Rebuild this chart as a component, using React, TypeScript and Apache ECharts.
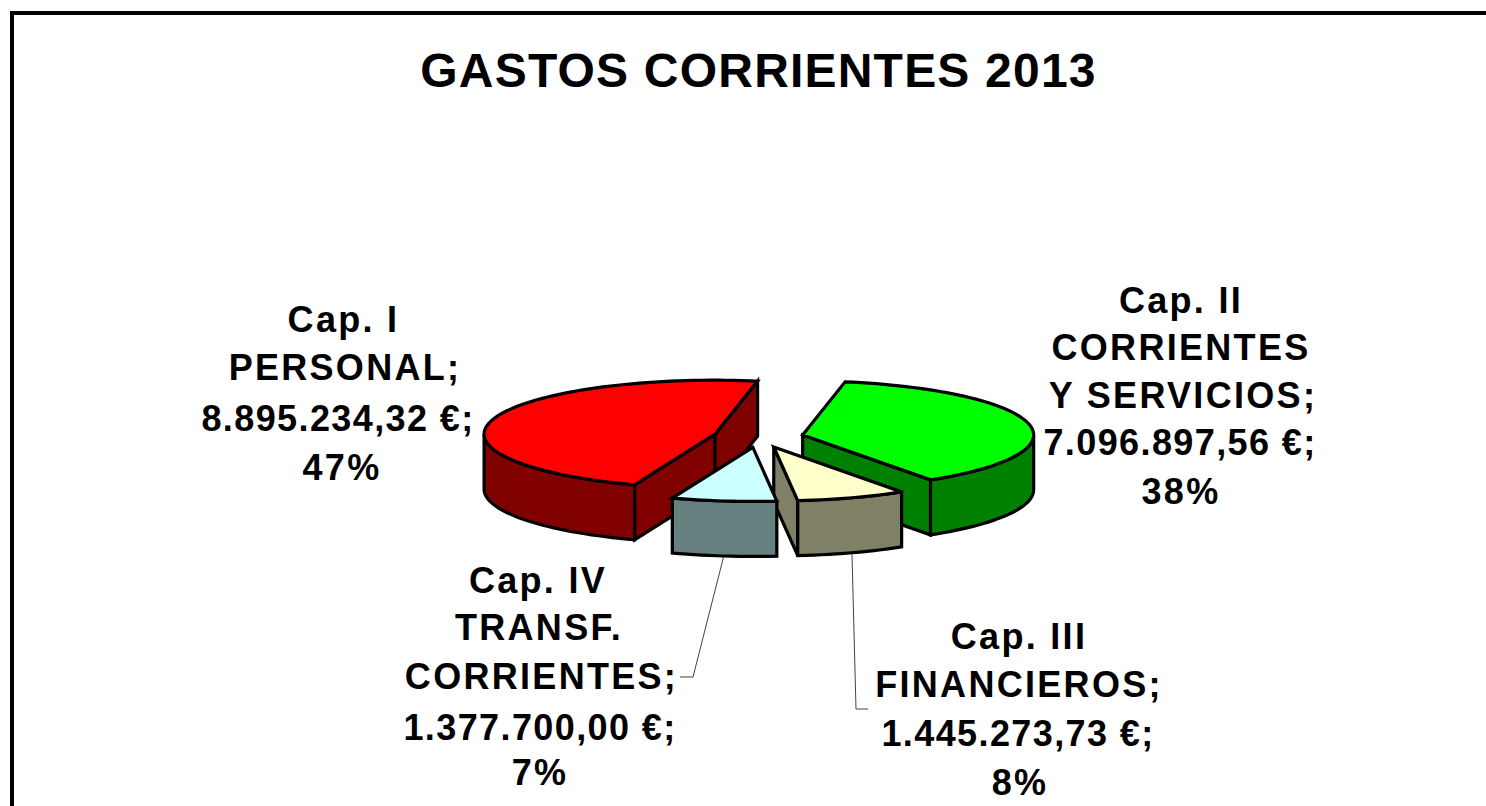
import React, { useEffect, useRef } from "react";
import * as echarts from "echarts";

const chartTitle = "GASTOS CORRIENTES 2013";
const capIValue = 8895234.32;
const capIIValue = 7096897.56;
const capIIIValue = 1445273.73;
const capIVValue = 1377700.0;
const values = [capIValue, capIIValue, capIIIValue, capIVValue];

const capILabel = ["Cap. I", "PERSONAL;", "8.895.234,32 €;", "47%"];
const capIILabel = ["Cap. II", "CORRIENTES", "Y SERVICIOS;", "7.096.897,56 €;", "38%"];
const capIIILabel = ["Cap. III", "FINANCIEROS;", "1.445.273,73 €;", "8%"];
const capIVLabel = ["Cap. IV", "TRANSF.", "CORRIENTES;", "1.377.700,00 €;", "7%"];

const topColors = ["#FF0000", "#00FF00", "#FFFFCC", "#CCFFFF"];
const wallColors = ["#800000", "#008000", "#808066", "#668080"];

// Pie projection
const CX = 758.5;
const CY = 437;
const RX = 231;
const RY = 54;
const DEPTH = 55;
const EXPLODE = 0.195;
const START_ANGLE = 200.4;

const rad = (d: number) => (d * Math.PI) / 180;
const onRim = (c: number[], a: number, dy = 0) => [
  c[0] + RX * Math.sin(rad(a)),
  c[1] - RY * Math.cos(rad(a)) + dy,
];
const arcPoints = (c: number[], a0: number, a1: number, dy = 0) => {
  const n = Math.max(2, Math.ceil(Math.abs(a1 - a0) / 2));
  const out: number[][] = [];
  for (let i = 0; i <= n; i++) out.push(onRim(c, a0 + ((a1 - a0) * i) / n, dy));
  return out;
};

const total = values.reduce((a, b) => a + b, 0);

function sliceGeometry(index: number) {
  let a0 = START_ANGLE;
  for (let i = 0; i < index; i++) a0 += (values[i] / total) * 360;
  if (a0 >= 360) a0 -= 360;
  const a1 = a0 + (values[index] / total) * 360;
  const mid = (a0 + a1) / 2;
  const c = [
    CX + EXPLODE * RX * Math.sin(rad(mid)),
    CY - EXPLODE * RY * Math.cos(rad(mid)),
  ];
  return { a0, a1, mid, c };
}

const strokeStyle = (fill: string) => ({
  fill,
  stroke: "#000",
  lineWidth: 3.2,
  lineJoin: "miter" as const,
  miterLimit: 4,
});

function renderSlice(params: any) {
  const i = params.dataIndex;
  const { a0, a1, c } = sliceGeometry(i);
  const children: any[] = [];
  const wall = wallColors[i];
  const edgeWall = (a: number) => {
    const tip = onRim(c, a);
    return {
      type: "polygon",
      shape: { points: [c, tip, [tip[0], tip[1] + DEPTH], [c[0], c[1] + DEPTH]] },
      style: strokeStyle(wall),
    };
  };
  if (Math.sin(rad(a0)) < 0) children.push(edgeWall(a0));
  if (Math.sin(rad(a1)) > 0) children.push(edgeWall(a1));

  const from = Math.max(a0, 90);
  const to = Math.min(a1, 270);
  if (to > from) {
    const upper = arcPoints(c, from, to);
    const lower = arcPoints(c, from, to, DEPTH).reverse();
    children.push({
      type: "polygon",
      shape: { points: [...upper, ...lower] },
      style: strokeStyle(wall),
    });
  }
  children.push({
    type: "polygon",
    shape: { points: [c, ...arcPoints(c, a0, a1)] },
    style: strokeStyle(topColors[i]),
  });
  return { type: "group", children };
}

const leaderElbows: (number[][] | null)[] = [
  null,
  null,
  [[856, 709], [868, 709]],
  [[693, 677], [680, 677]],
];

function renderLeader(params: any) {
  const i = params.dataIndex;
  const { mid, c } = sliceGeometry(i);
  const start = onRim(c, mid, DEPTH);
  const elbow = leaderElbows[i];
  if (!elbow) return { type: "group", children: [] };
  return {
    type: "polyline",
    shape: { points: [start, elbow[0], elbow[1]] },
    style: { fill: "none", stroke: "#444", lineWidth: 1 },
  };
}

const labelBlocks = [
  { lines: capILabel, xs: [343.5, 345, 338, 342], ys: [319, 367, 418, 467] },
  { lines: capIILabel, xs: [1181, 1181, 1183, 1180, 1181], ys: [300, 347, 395, 442, 491] },
  { lines: capIIILabel, xs: [1019, 1019, 1018, 1020], ys: [636, 684, 733, 782] },
  { lines: capIVLabel, xs: [538, 539, 541.5, 540, 540], ys: [580, 627, 676, 727, 772] },
];

const FONT = "'Liberation Sans', Arial, sans-serif";

export default function App() {
  const ref = useRef<HTMLDivElement>(null);
  useEffect(() => {
    document.body.style.margin = "0";
    document.body.style.overflow = "hidden";
    const chart = echarts.init(ref.current!, undefined, { renderer: "svg" });
    const labels: any[] = [];
    labelBlocks.forEach((b) =>
      b.lines.forEach((t, k) =>
        labels.push({
          type: "text",
          x: b.xs[k],
          y: b.ys[k],
          z: 10,
          style: {
            text: t,
            fill: "#000",
            font: `bold 36px ${FONT}`,
            textAlign: "center",
            textVerticalAlign: "middle",
          },
        })
      )
    );
    chart.setOption({
      animation: false,
      backgroundColor: "#fff",
      tooltip: { show: false },
      graphic: [
        {
          type: "polyline",
          shape: { points: [[12, 806], [12, 13], [1486, 13]] },
          style: { fill: "none", stroke: "#000", lineWidth: 4 },
        },
        {
          type: "text",
          x: 758.5,
          y: 70,
          style: {
            text: chartTitle,
            fill: "#000",
            font: `bold 48px ${FONT}`,
            textAlign: "center",
            textVerticalAlign: "middle",
          },
        },
        ...labels,
      ],
      series: [
        {
          type: "custom",
          coordinateSystem: "none",
          data: values,
          renderItem: renderLeader,
          silent: true,
          z: 1,
        },
        {
          type: "custom",
          coordinateSystem: "none",
          data: values,
          renderItem: renderSlice,
          silent: true,
          z: 2,
        },
      ],
    });
    // The reference's type is tracked out; SVG text takes this from CSS.
    ref.current!.querySelectorAll("text").forEach((el) => {
      const t = el.textContent || "";
      const spacing = t === chartTitle ? 1.2 : t.includes("€") ? 1.4 : 2.3;
      (el as SVGTextElement).style.letterSpacing = `${spacing}px`;
    });
    return () => chart.dispose();
  }, []);
  return <div id="chart" ref={ref} style={{ width: 1486, height: 806 }} />;
}
